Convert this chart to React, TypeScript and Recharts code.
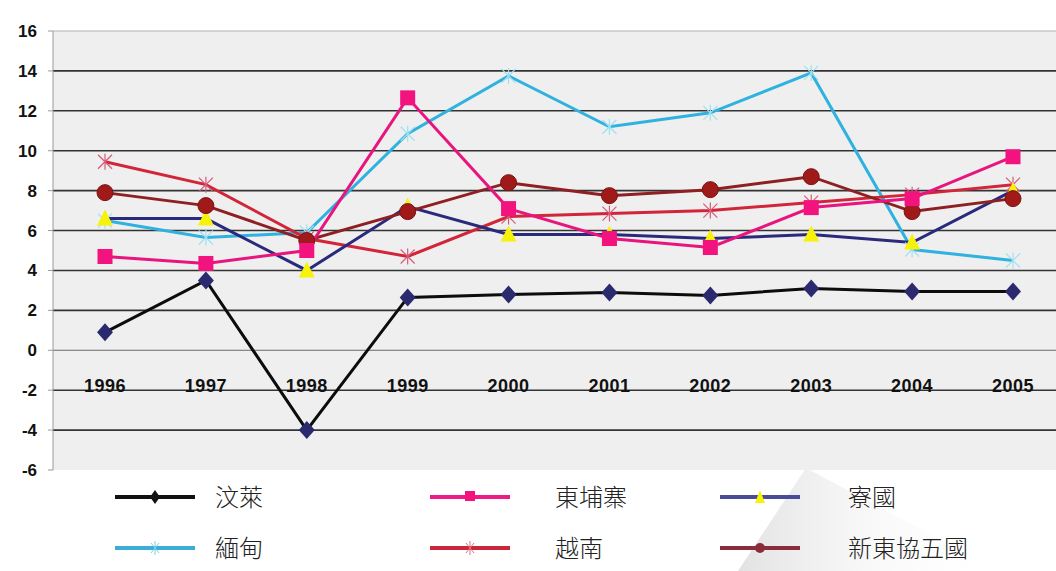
import React from 'react';
import { LineChart, Line, XAxis, YAxis, CartesianGrid, ReferenceLine } from 'recharts';

const years = ['1996', '1997', '1998', '1999', '2000', '2001', '2002', '2003', '2004', '2005'];
const brunei = [0.9, 3.5, -4.0, 2.65, 2.8, 2.9, 2.75, 3.1, 2.95, 2.95];
const cambodia = [4.7, 4.35, 5.0, 12.65, 7.1, 5.6, 5.15, 7.15, 7.6, 9.7];
const laos = [6.6, 6.6, 4.0, 7.2, 5.8, 5.8, 5.6, 5.8, 5.4, 8.0];
const myanmar = [6.5, 5.65, 5.9, 10.85, 13.75, 11.2, 11.9, 13.9, 5.05, 4.5];
const vietnam = [9.45, 8.3, 5.6, 4.7, 6.7, 6.85, 7.0, 7.4, 7.8, 8.3];
const asean5 = [7.9, 7.25, 5.5, 6.95, 8.4, 7.75, 8.05, 8.7, 6.95, 7.6];

const yTicks = [-6, -4, -2, 0, 2, 4, 6, 8, 10, 12, 14, 16];
const gridValues = [-4, -2, 2, 4, 6, 8, 10, 12, 14];

const data = years.map((year, i) => ({
  year,
  brunei: brunei[i],
  cambodia: cambodia[i],
  laos: laos[i],
  myanmar: myanmar[i],
  vietnam: vietnam[i],
  asean5: asean5[i],
}));

type DotProps = { cx?: number; cy?: number; index?: number };

const diamond = (p: DotProps) => (
  <polygon
    key={`d-${p.index}`}
    points={`${p.cx},${p.cy! - 9} ${p.cx! + 8},${p.cy} ${p.cx},${p.cy! + 9} ${p.cx! - 8},${p.cy}`}
    fill="#2b2a6e"
  />
);
const square = (p: DotProps) => (
  <rect key={`s-${p.index}`} x={p.cx! - 7.5} y={p.cy! - 7.5} width={15} height={15} fill="#f2137f" />
);
const triangle = (p: DotProps) => (
  <polygon
    key={`t-${p.index}`}
    points={`${p.cx},${p.cy! - 9} ${p.cx! + 8},${p.cy! + 7} ${p.cx! - 8},${p.cy! + 7}`}
    fill="#f7f20a"
  />
);
const cross = (color: string) => (p: DotProps) => (
  <g key={`x-${color}-${p.index}`} stroke={color} strokeWidth={1.2}>
    <line x1={p.cx! - 7} y1={p.cy! - 7} x2={p.cx! + 7} y2={p.cy! + 7} />
    <line x1={p.cx! - 7} y1={p.cy! + 7} x2={p.cx! + 7} y2={p.cy! - 7} />
    <line x1={p.cx} y1={p.cy! - 8} x2={p.cx} y2={p.cy! + 8} />
  </g>
);
const circle = (p: DotProps) => (
  <circle key={`c-${p.index}`} cx={p.cx} cy={p.cy} r={8} fill="#a11a1a" stroke="#7a1212" strokeWidth={1} />
);

const XTick = (props: any) => {
  const { x, y, payload } = props;
  return (
    <text
      x={x}
      y={y - 78}
      textAnchor="middle"
      fontFamily="Liberation Sans, Arial, sans-serif"
      fontWeight="bold"
      fontSize={18}
      letterSpacing={0.5}
      fill="#111"
    >
      {payload.value}
    </text>
  );
};

const legendItems = [
  { name: '汶萊', color: '#111', marker: 'diamond', mColor: '#111' },
  { name: '東埔寨', color: '#ee1a86', marker: 'square', mColor: '#f2137f' },
  { name: '寮國', color: '#4a4a9a', marker: 'triangle', mColor: '#f7f20a' },
  { name: '緬甸', color: '#3aaed6', marker: 'cross', mColor: '#7fd0ea' },
  { name: '越南', color: '#c8283a', marker: 'cross', mColor: '#e07080' },
  { name: '新東協五國', color: '#8a2c3c', marker: 'circle', mColor: '#8a2c3c' },
];
const legendCols = [
  { line: 115, text: 215 },
  { line: 430, text: 555 },
  { line: 720, text: 848 },
];
const legendRows = [497, 548];

function LegendMark({ item }: { item: (typeof legendItems)[number] }) {
  const c = 40;
  return (
    <svg width={80} height={16} style={{ display: 'block' }}>
      <line x1={0} y1={8} x2={80} y2={8} stroke={item.color} strokeWidth={4} />
      {item.marker === 'diamond' && <polygon points={`${c},1 ${c + 5},8 ${c},15 ${c - 5},8`} fill={item.mColor} />}
      {item.marker === 'square' && <rect x={c - 5} y={2} width={10} height={10} fill={item.mColor} />}
      {item.marker === 'triangle' && <polygon points={`${c},1 ${c + 5},14 ${c - 5},14`} fill={item.mColor} />}
      {item.marker === 'circle' && <circle cx={c} cy={8} r={5} fill={item.mColor} />}
      {item.marker === 'cross' && (
        <g stroke={item.mColor} strokeWidth={1}>
          <line x1={c - 4} y1={3} x2={c + 4} y2={13} />
          <line x1={c - 4} y1={13} x2={c + 4} y2={3} />
          <line x1={c} y1={1} x2={c} y2={15} />
        </g>
      )}
    </svg>
  );
}

export default function App() {
  return (
    <div style={{ position: 'absolute', left: 0, top: 0, width: 1056, height: 571, background: '#fff', overflow: 'hidden' }}>
      <svg width={1056} height={571} style={{ position: 'absolute', left: 0, top: 0 }}>
        <defs>
          <linearGradient id="wm" x1="0" y1="0" x2="1" y2="0">
            <stop offset="0" stopColor="#e2e2e2" />
            <stop offset="1" stopColor="#ffffff" stopOpacity={0} />
          </linearGradient>
        </defs>
        <polygon points="806,468 738,571 1000,571" fill="url(#wm)" />
      </svg>
      <div style={{ position: 'absolute', left: 0, top: 0 }}>
        <LineChart width={1056} height={571} data={data} margin={{ top: 31, right: 0, left: 0, bottom: 81 }}>
          <CartesianGrid fill="#efefef" stroke="none" horizontal={false} vertical={false} />
          {gridValues.map((v) => (
            <ReferenceLine key={v} y={v} stroke="#333" strokeWidth={1.6} />
          ))}
          <ReferenceLine y={16} stroke="#c8c8c8" strokeWidth={1.5} />
          <ReferenceLine y={0} stroke="#6a6a6a" strokeWidth={1} />
          <XAxis
            dataKey="year"
            height={20}
            padding={{ left: 52, right: 43 }}
            axisLine={false}
            tickLine={false}
            tickSize={0}
            tickMargin={0}
            tick={<XTick />}
            interval={0}
          />
          <YAxis
            width={53}
            domain={[-6, 16]}
            ticks={yTicks}
            interval={0}
            axisLine={{ stroke: '#9a9a9a' }}
            tickLine={{ stroke: '#9a9a9a' }}
            tickSize={5}
            tickMargin={11}
            tick={{ fill: '#111', fontSize: 17, fontWeight: 'bold', fontFamily: 'Liberation Sans, Arial, sans-serif' }}
          />
          <Line dataKey="myanmar" stroke="#2fb2df" strokeWidth={3} dot={cross('#9fe0f2')} isAnimationActive={false} />
          <Line dataKey="vietnam" stroke="#d3253a" strokeWidth={3} dot={cross('#d85a78')} isAnimationActive={false} />
          <Line dataKey="laos" stroke="#2a2a7c" strokeWidth={3} dot={triangle} isAnimationActive={false} />
          <Line dataKey="asean5" stroke="#8e1f22" strokeWidth={3} dot={circle} isAnimationActive={false} />
          <Line dataKey="cambodia" stroke="#e8157e" strokeWidth={3} dot={square} isAnimationActive={false} />
          <Line dataKey="brunei" stroke="#0c0c0c" strokeWidth={3} dot={diamond} isAnimationActive={false} />
        </LineChart>
      </div>
      {legendItems.map((item, i) => {
        const col = legendCols[i % 3];
        const row = legendRows[Math.floor(i / 3)];
        return (
          <React.Fragment key={item.name}>
            <div style={{ position: 'absolute', left: col.line, top: row - 8 }}>
              <LegendMark item={item} />
            </div>
            <div
              style={{
                position: 'absolute',
                left: col.text,
                top: row - 16,
                fontFamily: '"Noto Sans CJK TC", sans-serif',
                fontWeight: 300,
                fontSize: 24,
                lineHeight: '30px',
                color: '#222',
                whiteSpace: 'nowrap',
              }}
            >
              {item.name}
            </div>
          </React.Fragment>
        );
      })}
    </div>
  );
}
